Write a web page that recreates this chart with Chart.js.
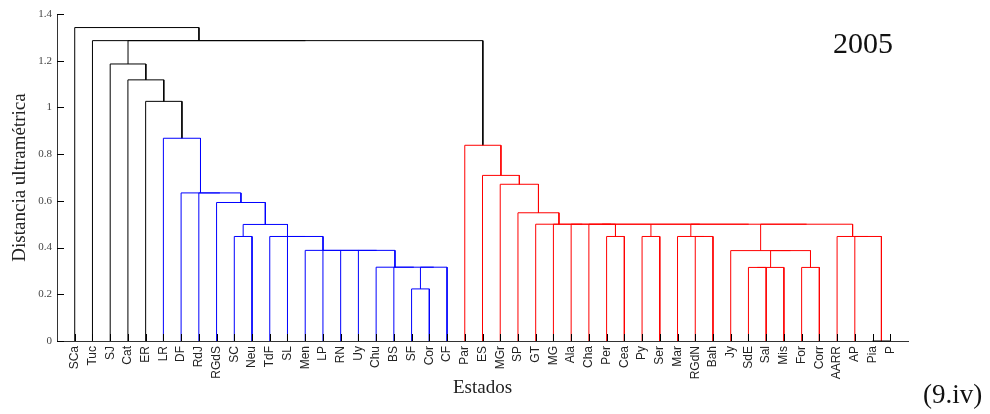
<!DOCTYPE html>
<html>
<head>
<meta charset="utf-8">
<script src="https://cdn.jsdelivr.net/npm/chart.js@4/dist/chart.umd.min.js"></script>
<style>
  html, body { margin: 0; padding: 0; background: #ffffff; }
  #wrap { width: 990px; height: 414px; position: relative; }
</style>
</head>
<body>
<div id="wrap"><canvas id="c" width="990" height="414"></canvas></div>
<script>
// ---- Data ----
const leaves = ['SCa','Tuc','SJ','Cat','ER','LR','DF','RdJ','RGdS','SC','Neu','TdF','SL','Men','LP','RN','Uy','Chu','BS','SF','Cor','CF','Par','ES','MGr','SP','GT','MG','Ala','Cha','Per','Cea','Py','Ser','Mar','RGdN','Bah','Jy','SdE','Sal','Mis','For','Corr','AARR','AP','Pia','P'];

// linkage: child A, child B ('#n' = result of link n), merge height, cluster group
const linkA = ['SF','#0','BS','Chu','Uy','RN','LP','Men','SL','TdF','SC','#10','RGdS','RdJ','DF','LR','ER','Cat','SJ',
               'Per','Py','RGdN','Mar','SdE','#23','For','#24','Jy','Pia','AP','AARR','#27','#22','#20','Cha','#34','Ala','MG','GT','SP','MGr','ES','Par',
               '#18','Tuc','SCa'];
const linkB = ['Cor','CF','#1','#2','#3','#4','#5','#6','#7','#8','Neu','#9','#11','#12','#13','#14','#15','#16','#17',
               'Cea','Ser','Bah','#21','Sal','Mis','Corr','#25','#26','P','#28','#29','#30','#31','#32','#19','#33','#35','#36','#37','#38','#39','#40','#41',
               '#42','#43','#44'];
const linkHeight = [0.223,0.316,0.316,0.316,0.388,0.388,0.388,0.388,0.4475,0.4475,0.4475,0.499,0.593,0.634,0.634,0.868,1.026,1.118,1.186,
                    0.4475,0.4475,0.4475,0.4475,0.315,0.315,0.315,0.387,0.387,0,0.4475,0.4475,0.5,0.5,0.5,0.5,0.5,0.5,0.5,0.5,0.549,0.671,0.709,0.838,
                    1.286,1.286,1.342];
const linkGroup = ['b','b','b','b','b','b','b','b','b','b','b','b','b','b','b','b','k','k','k',
                   'r','r','r','r','r','r','r','r','r','k','r','r','r','r','r','r','r','r','r','r','r','r','r','r',
                   'k','k','k'];

const yTicks = [0, 0.2, 0.4, 0.6, 0.8, 1, 1.2, 1.4];
const yearLabel = '2005';
const panelLabel = '(9.iv)';

// ---- Build dendrogram segments (x = leaf order position, y = height) ----
const groupColor = { k: '#000000', b: '#0000ff', r: '#ff0000' };
const nodeX = [], nodeY = [];
function childPos(ref) {
  if (ref[0] === '#') { const n = +ref.slice(1); return [nodeX[n], nodeY[n]]; }
  return [leaves.indexOf(ref) + 1, 0];
}
const datasets = [];
for (let i = 0; i < linkA.length; i++) {
  const [xa, ya] = childPos(linkA[i]);
  const [xb, yb] = childPos(linkB[i]);
  const h = linkHeight[i];
  nodeX[i] = (xa + xb) / 2;
  nodeY[i] = h;
  datasets.push({
    data: [{x: xa, y: ya}, {x: xa, y: h}, {x: xb, y: h}, {x: xb, y: yb}],
    borderColor: groupColor[linkGroup[i]],
    borderWidth: 1,
    pointRadius: 0,
    showLine: true,
    tension: 0,
    fill: false,
    clip: false
  });
}

// inward tick marks + annotation texts
const extras = {
  id: 'extras',
  afterDatasetsDraw(chart) {
    const ctx = chart.ctx, xs = chart.scales.x, ys = chart.scales.y;
    ctx.save();
    ctx.strokeStyle = '#000';
    ctx.lineWidth = 1;
    ctx.beginPath();
    for (let i = 0; i < leaves.length; i++) {
      const px = Math.round(xs.getPixelForValue(i + 1)) + 0.5;
      ctx.moveTo(px, ys.bottom);
      ctx.lineTo(px, ys.bottom - 7);
    }
    yTicks.forEach(v => {
      const py = Math.round(ys.getPixelForValue(v)) + 0.5;
      ctx.moveTo(xs.left, py);
      ctx.lineTo(xs.left + 7, py);
    });
    ctx.stroke();
    ctx.fillStyle = '#111';
    ctx.textBaseline = 'alphabetic';
    ctx.textAlign = 'left';
    ctx.font = '30px "Liberation Serif", serif';
    ctx.fillText(yearLabel, 833, 53);
    ctx.font = '27px "Liberation Serif", serif';
    ctx.fillText(panelLabel, 923, 403);
    ctx.restore();
  }
};

new Chart(document.getElementById('c'), {
  type: 'scatter',
  data: { datasets },
  plugins: [extras],
  options: {
    responsive: false,
    devicePixelRatio: 1,
    animation: false,
    layout: { padding: { left: 0, right: 82, top: 14, bottom: 0 } },
    plugins: { legend: { display: false }, tooltip: { enabled: false } },
    scales: {
      x: {
        type: 'linear',
        min: 0, max: leaves.length + 1,
        grid: { display: false, drawTicks: false },
        border: { display: true, color: '#333', width: 1 },
        ticks: {
          stepSize: 1, autoSkip: false, maxRotation: 90, minRotation: 90,
          padding: 5,
          color: '#222',
          font: { family: '"Liberation Sans", Arial, sans-serif', size: 12 },
          callback: v => (Number.isInteger(v) && v >= 1 && v <= leaves.length) ? leaves[v - 1] : ''
        },
        title: {
          display: true, text: 'Estados', color: '#222',
          font: { family: '"Liberation Serif", serif', size: 19 },
          padding: { top: 0, bottom: 15 }
        },
        afterFit(s) { s.height = 73; }
      },
      y: {
        type: 'linear',
        min: 0, max: 1.4,
        afterBuildTicks(s) { s.ticks = yTicks.map(v => ({ value: v })); },
        grid: { display: false, drawTicks: false },
        border: { display: true, color: '#333', width: 1 },
        ticks: {
          padding: 5,
          color: '#444',
          font: { family: '"Liberation Serif", serif', size: 11 },
          callback: v => String(+(+v).toFixed(1))
        },
        title: {
          display: true, text: 'Distancia ultramétrica', color: '#222',
          font: { family: '"Liberation Serif", serif', size: 19 },
          padding: { top: 9, bottom: 0 }
        },
        afterFit(s) { s.width = 57; }
      }
    }
  }
});
</script>
</body>
</html>
